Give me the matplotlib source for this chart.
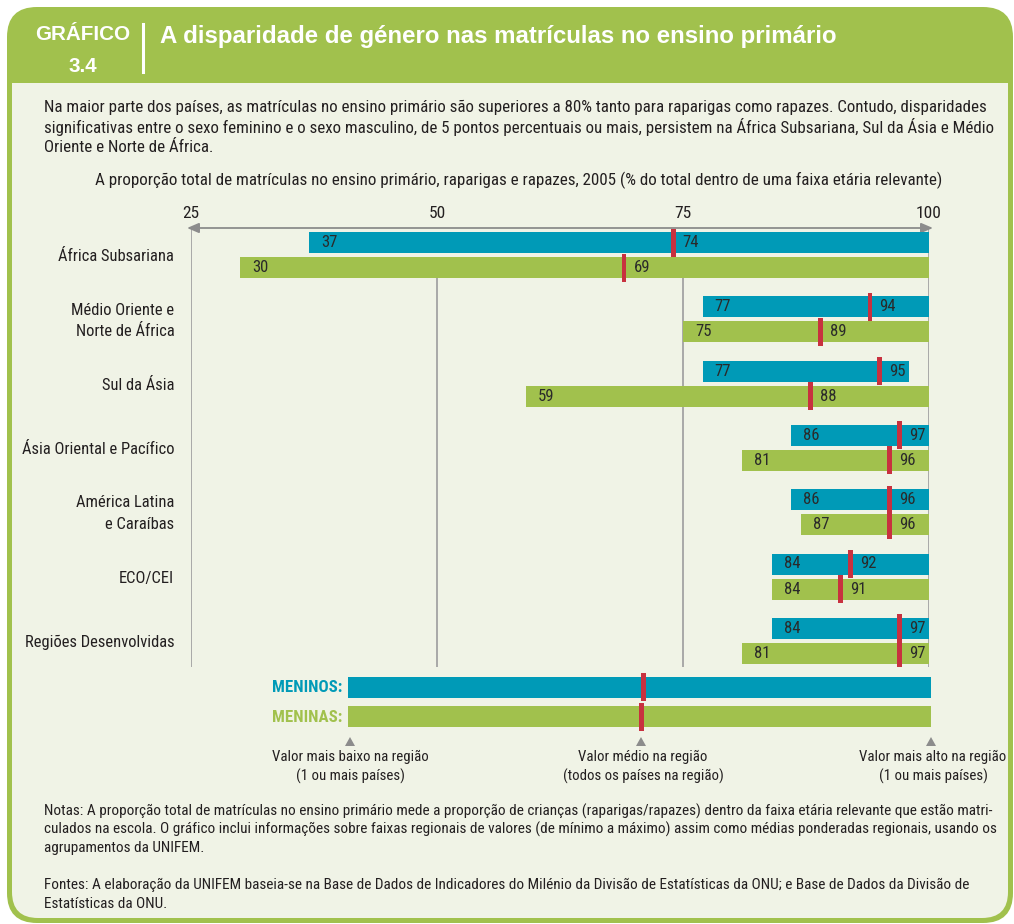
import matplotlib
matplotlib.use("Agg")
import matplotlib.pyplot as plt
from matplotlib import font_manager as fm
from matplotlib.patches import FancyBboxPatch, Rectangle, Polygon

# ---------------- data ----------------
regions = ["África Subsariana", "Médio Oriente e\nNorte de África", "Sul da Ásia",
           "Ásia Oriental e Pacífico", "América Latina\ne Caraíbas", "ECO/CEI",
           "Regiões Desenvolvidas"]
boys_min = [37, 77, 77, 86, 86, 84, 84]
boys_mean = [74, 94, 95, 97, 96, 92, 97]
boys_max = [100, 100, 98, 100, 100, 100, 100]
girls_min = [30, 75, 59, 81, 87, 84, 81]
girls_mean = [69, 89, 88, 96, 96, 91, 97]
girls_max = [100, 100, 100, 100, 100, 100, 100]
x_ticks = [25, 50, 75, 100]

# ---------------- style ----------------
TEAL = "#009AB7"
GREEN = "#A1C14D"
RED = "#C8313F"
CREAM = "#F0F3E6"
GRID = "#A3A3A3"
TXT = "#231F20"

available = {f.name for f in fm.fontManager.ttflist}
def pick(cands):
    for c in cands:
        if c in available:
            return c
    return "DejaVu Sans"
NARROW_NAME = pick(["Roboto Condensed", "Archivo Narrow", "PT Sans Narrow", "Liberation Sans Narrow",
                    "Fira Sans Condensed", "IBM Plex Sans Condensed", "Sofia Sans Condensed",
                    "Encode Sans Condensed", "Open Sans Condensed"])
NARROW = [NARROW_NAME, "DejaVu Sans"]
BOLD = [pick(["Liberation Sans", "Arimo", "Roboto"]), "DejaVu Sans"]

W, H = 1014, 924
fig = plt.figure(figsize=(W / 100, H / 100), dpi=100)
fig.patch.set_facecolor("white")
renderer = fig.canvas.get_renderer()

def fit(t, target):
    w = t.get_window_extent(renderer).width
    if w > 0:
        t.set_fontsize(t.get_fontsize() * target / w)
    return t.get_fontsize()

# background / decoration axes in pixel coordinates
bg = fig.add_axes([0, 0, 1, 1])
bg.set_xlim(0, W)
bg.set_ylim(H, 0)
bg.axis("off")

# frame
bg.add_patch(FancyBboxPatch((7 + 30, 7 + 30), 1006 - 60, 916 - 60,
                            boxstyle="round,pad=30", fc=GREEN, ec="none"))
bg.add_patch(FancyBboxPatch((12 + 26, 83 + 26), 996 - 52, 835 - 52,
                            boxstyle="round,pad=26", fc=CREAM, ec="none"))
bg.add_patch(Rectangle((12, 83), 996, 60, fc=CREAM, ec="none"))

# header
g = bg.text(83, 35, "GRÁFICO", color="white", fontsize=14, fontweight="bold",
            family=BOLD, ha="center", va="center")
gs = fit(g, 95)
bg.text(83, 66, "3.4", color="white", fontsize=gs, fontweight="bold",
        family=BOLD, ha="center", va="center")
bg.plot([143, 143], [24, 72], color="white", lw=2.2)
tt = bg.text(160, 36, "A disparidade de género nas matrículas no ensino primário",
             color="white", fontsize=16, fontweight="bold", family=BOLD,
             ha="left", va="center")
fit(tt, 675)

body = ["Na maior parte dos países, as matrículas no ensino primário são superiores a 80% tanto para raparigas como rapazes. Contudo, disparidades",
        "significativas entre o sexo feminino e o sexo masculino, de 5 pontos percentuais ou mais, persistem na África Subsariana, Sul da Ásia e Médio",
        "Oriente e Norte de África."]
bt = [bg.text(44, 107 + i * 20.5, line, color=TXT, fontsize=11, family=NARROW,
              ha="left", va="center") for i, line in enumerate(body)]
bs = fit(bt[0], 938)
for t in bt[1:]:
    t.set_fontsize(bs)
st = bg.text(519, 180, "A proporção total de matrículas no ensino primário, raparigas e rapazes, 2005 (% do total dentro de uma faixa etária relevante)",
             color=TXT, fontsize=11, family=NARROW, ha="center", va="center")
fit(st, 845)

notes = ["Notas: A proporção total de matrículas no ensino primário mede a proporção de crianças (raparigas/rapazes) dentro da faixa etária relevante que estão matri-",
         "culados na escola. O gráfico inclui informações sobre faixas regionais de valores (de mínimo a máximo) assim como médias ponderadas regionais, usando os",
         "agrupamentos da UNIFEM."]
nt = [bg.text(44, 811 + i * 18.5, line, color=TXT, fontsize=10, family=NARROW,
              ha="left", va="center") for i, line in enumerate(notes)]
ns = fit(nt[0], 941)
for t in nt[1:]:
    t.set_fontsize(ns)
fontes = ["Fontes: A elaboração da UNIFEM baseia-se na Base de Dados de Indicadores do Milénio da Divisão de Estatísticas da ONU; e Base de Dados da Divisão de",
          "Estatísticas da ONU."]
for i, line in enumerate(fontes):
    bg.text(44, 885 + i * 18.5, line, color=TXT, fontsize=ns, family=NARROW,
            ha="left", va="center")

# legend
bg.add_patch(Rectangle((348, 677), 583, 21, fc=TEAL, ec="none"))
bg.add_patch(Rectangle((348, 706), 583, 21, fc=GREEN, ec="none"))
bg.add_patch(Rectangle((641, 673), 4.5, 28, fc=RED, ec="none"))
bg.add_patch(Rectangle((639, 703), 4.5, 28, fc=RED, ec="none"))
m1 = bg.text(342, 688, "MENINOS:", color=TEAL, fontsize=11, fontweight="bold",
             family=NARROW, ha="right", va="center")
ms = fit(m1, 70)
bg.text(342, 717, "MENINAS:", color=GREEN, fontsize=ms, fontweight="bold",
        family=NARROW, ha="right", va="center")
ls = None
for cx, tx, l1, l2 in [(350, 350, "Valor mais baixo na região", "(1 ou mais países)"),
                       (643, 641, "Valor médio na região", "(todos os países na região)"),
                       (933, 931, "Valor mais alto na região", "(1 ou mais países)")]:
    bg.add_patch(Polygon([(tx - 5, 746), (tx + 5, 746), (tx, 737)], fc="#8C8C8C", ec="none"))
    a = bg.text(cx, 757, l1, color=TXT, fontsize=10, family=NARROW, ha="center", va="center")
    if ls is None:
        ls = fit(a, 156)
    a.set_fontsize(ls)
    bg.text(cx, 776, l2, color=TXT, fontsize=ls, family=NARROW, ha="center", va="center")

# ---------------- chart axes ----------------
PX_TOP, PX_BOT, PX_L, PX_R = 228, 667, 191, 929
ax = fig.add_axes([PX_L / W, 1 - PX_BOT / H, (PX_R - PX_L) / W, (PX_BOT - PX_TOP) / H])
ax.patch.set_alpha(0)
ROW = 64.3      # pixels per group
MID0 = 255      # pixel centre of first group
ax.set_xlim(25, 100)
ax.set_ylim((PX_BOT - MID0) / ROW, (PX_TOP - MID0) / ROW)
for s in ax.spines.values():
    s.set_visible(False)

unit = (PX_R - PX_L) / 75.0      # px per data unit
bar_h = 21 / ROW
off = 12.5 / ROW
mark_h = 28 / ROW

ypos = list(range(len(regions)))

# gridlines
ax.vlines([25, 100], (PX_TOP - MID0) / ROW, (PX_BOT - MID0) / ROW, color=GRID, lw=1.3, zorder=1)
ax.vlines([50, 75], off + bar_h / 2, (PX_BOT - MID0) / ROW, color=GRID, lw=1.3, zorder=1)
ax.annotate("", xy=(24.6, (PX_TOP - MID0) / ROW), xytext=(100.4, (PX_TOP - MID0) / ROW),
            arrowprops=dict(arrowstyle="<|-|>,head_length=0.7,head_width=0.3", color="#8C8C8C",
                            lw=1.3, shrinkA=0, shrinkB=0), annotation_clip=False, zorder=2)

yb = [y - off for y in ypos]
yg = [y + off for y in ypos]
ax.barh(yb, [mx - mn for mn, mx in zip(boys_min, boys_max)], left=boys_min,
        height=bar_h, color=TEAL, zorder=3)
ax.barh(yg, [mx - mn for mn, mx in zip(girls_min, girls_max)], left=girls_min,
        height=bar_h, color=GREEN, zorder=3)
ax.barh(yb, [0.5] * len(ypos), left=[m - 0.25 for m in boys_mean], height=mark_h,
        color=RED, zorder=4)
ax.barh(yg, [0.5] * len(ypos), left=[m - 0.25 for m in girls_mean], height=mark_h,
        color=RED, zorder=4)

lab_kw = dict(color="#2A2A2A", fontsize=12, family=NARROW, va="center", ha="left", zorder=5)
for y, mn, me, mx in zip(yb, boys_min, boys_mean, boys_max):
    ax.text(mn + 12 / unit, y, str(mn), **lab_kw)
    ax.text(min(me + 9.5 / unit, mx - 18 / unit), y, str(me), **lab_kw)
for y, mn, me, mx in zip(yg, girls_min, girls_mean, girls_max):
    ax.text(mn + 12 / unit, y, str(mn), **lab_kw)
    ax.text(min(me + 9.5 / unit, mx - 18 / unit), y, str(me), **lab_kw)

ax.xaxis.tick_top()
ax.set_xticks(x_ticks)
ax.set_xticklabels([str(t) for t in x_ticks], fontsize=12.5, family=NARROW, color=TXT)
ax.tick_params(axis="x", length=0, pad=5)
ax.set_yticks([y - (0.05 if "\n" in r else 0) for y, r in zip(ypos, regions)])
ax.set_yticklabels(regions, fontsize=12, family=NARROW, color=TXT)
yl = ax.get_yticklabels()
w0 = yl[0].get_window_extent(renderer).width
ysz = 12 * 115 / w0 if w0 > 0 else 12
for t in yl:
    t.set_fontsize(ysz)
    t.set_linespacing(1.55)
ax.tick_params(axis="y", length=0, pad=12)

fig.savefig("out.png", dpi=100, facecolor="white")
